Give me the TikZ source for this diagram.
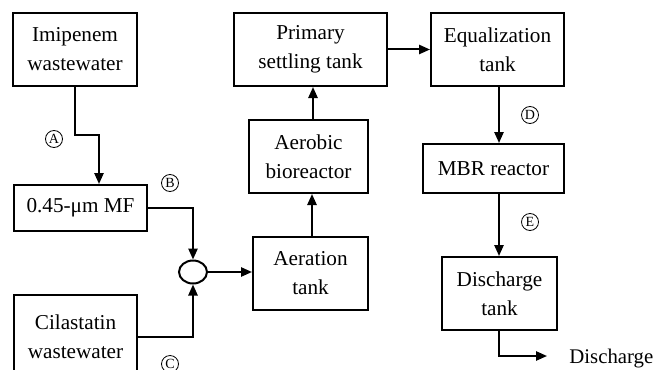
\documentclass[tikz,border=0pt]{standalone}
\usepackage{fontspec}
\setmainfont{Liberation Serif}
\usetikzlibrary{arrows.meta,shapes.geometric}

\tikzset{
  box/.style={draw, line width=1pt, inner sep=0pt, align=center,
    font=\fontsize{10.6}{14.5}\selectfont},
  arr/.style={line width=1pt, -{Triangle[length=5.5pt,width=4.6pt]}},
  tag/.style={draw, circle, line width=0.4pt, minimum size=8.5pt, inner sep=0pt,
    font=\fontsize{7}{7}\selectfont}
}

\begin{document}
\begin{tikzpicture}[x=0.5pt, y=-0.5pt]
    \useasboundingbox (0,0) rectangle (656,369);
    \clip (0,0) rectangle (656,369);
    % linke Spalte:
    \node[box, minimum width=62pt, minimum height=36.5pt] (imi) at (75,49.5) {Imipenem\\wastewater};
    \node[box, minimum width=66.5pt, minimum height=23pt] (mf) at (80.5,208) {0.45-μm MF};
    \node[box, minimum width=61.5pt, minimum height=42pt] (cil) at (75.5,337) {Cilastatin\\wastewater};
    \node[draw, ellipse, line width=1pt, minimum width=14pt, minimum height=11.5pt, inner sep=0pt] (mix) at (193,272) {};
    % mittlere Spalte:
    \node[box, minimum width=57.5pt, minimum height=36.5pt] (aer) at (310.5,273.5) {Aeration\\tank};
    \node[box, minimum width=59.5pt, minimum height=36.5pt] (bio) at (308.5,156.5) {Aerobic\\bioreactor};
    \node[box, minimum width=76.5pt, minimum height=36.5pt] (pst) at (310.5,49.5) {Primary\\settling tank};
    % rechte Spalte:
    \node[box, minimum width=66.5pt, minimum height=36.5pt] (equ) at (497.5,49.5) {Equalization\\tank};
    \node[box, minimum width=70.5pt, minimum height=24.5pt] (mbr) at (493.5,168.5) {MBR reactor};
    \node[box, minimum width=57.5pt, minimum height=36.5pt] (dis) at (499.5,293.5) {Discharge\\tank};
    \node[anchor=base west, inner sep=0pt, font=\fontsize{10.4}{12}\selectfont] (out) at (569,363) {Discharge};
    % Probenahmestellen:
    \node[tag] (tA) at (54,139) {A};
    \node[tag] (tB) at (170,183) {B};
    \node[tag] (tC) at (170,364) {C};
    \node[tag] (tD) at (530,115) {D};
    \node[tag] (tE) at (530,222) {E};
    % Pfeile:
    \coordinate (knick) at (99,135);
    \draw[arr] (imi.south) |- (knick) -- (knick |- mf.north);
    \draw[arr] (mf.east) -| (mix.north);
    \draw[arr] (cil.east) -| (mix.south);
    \draw[arr] (mix.east) -- (mix.east -| aer.west);
    \draw[arr] (312,0 |- aer.north) -- (312,0 |- bio.south);
    \draw[arr] (313,0 |- bio.north) -- (313,0 |- pst.south);
    \draw[arr] (pst.east) -- (pst.east -| equ.west);
    \draw[arr] (499,0 |- equ.south) -- (499,0 |- mbr.north);
    \draw[arr] (499,0 |- mbr.south) -- (499,0 |- dis.north);
    \coordinate (ende) at (547,356);
    \draw[arr] (499,0 |- dis.south) |- (ende);
\end{tikzpicture}
\end{document}
